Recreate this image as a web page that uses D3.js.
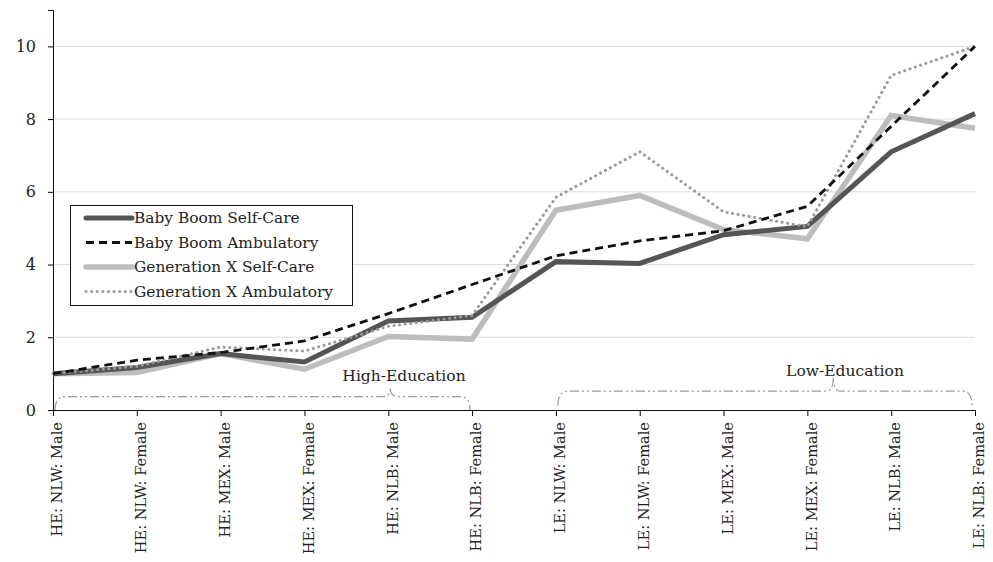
<!DOCTYPE html>
<html>
<head>
<meta charset="utf-8">
<script src="https://cdn.jsdelivr.net/npm/d3@7"></script>
<style>
  body { margin: 0; background: #fff; }
  svg text { font-family: "DejaVu Serif", "Liberation Serif", serif; fill: #222; }
</style>
</head>
<body>
<div id="chart"></div>
<script>
// categories along the x axis
var categories = [
    "HE: NLW: Male", "HE: NLW: Female", "HE: MEX: Male", "HE: MEX: Female",
    "HE: NLB: Male", "HE: NLB: Female", "LE: NLW: Male", "LE: NLW: Female",
    "LE: MEX: Male", "LE: MEX: Female", "LE: NLB: Male", "LE: NLB: Female"
];

// series values
var boomSelfCare   = [1.0, 1.17, 1.55, 1.32, 2.45, 2.55, 4.08, 4.03, 4.82, 5.05, 7.1, 8.15];
var boomAmbulatory = [1.0, 1.37, 1.58, 1.9, 2.65, 3.45, 4.24, 4.65, 4.93, 5.6, 7.8, 10.0];
var genXSelfCare   = [1.0, 1.03, 1.55, 1.12, 2.02, 1.95, 5.49, 5.9, 4.96, 4.71, 8.1, 7.75];
var genXAmbulatory = [1.0, 1.2, 1.73, 1.62, 2.3, 2.6, 5.85, 7.1, 5.45, 5.04, 9.2, 10.0];

var yTicks = [0, 2, 4, 6, 8, 10];

var seriesNames = [
    "Baby Boom Self-Care", "Baby Boom Ambulatory",
    "Generation X Self-Care", "Generation X Ambulatory"
];

var width = 993, height = 562;
var margin = {top: 10, right: 18, bottom: 152, left: 53};

var svg = d3.select("#chart")
    .append("svg")
    .attr("width", width)
    .attr("height", height);

var x = d3.scalePoint()
    .domain(categories)
    .range([margin.left, width - margin.right]);

var y = d3.scaleLinear()
    .domain([0, 11])
    .range([height - margin.bottom, margin.top]);

// gridlines
svg.append("g")
    .selectAll("line")
    .data(yTicks.filter(function (d) { return d > 0; }))
    .enter().append("line")
    .attr("x1", margin.left)
    .attr("x2", width - margin.right)
    .attr("y1", function (d) { return y(d); })
    .attr("y2", function (d) { return y(d); })
    .attr("stroke", "#dcdcdc")
    .attr("stroke-width", 1);

// axes
var yAxis = svg.append("g")
    .attr("transform", "translate(" + margin.left + ",0)")
    .call(d3.axisLeft(y).tickValues(yTicks).tickSize(5).tickPadding(12));
yAxis.select(".domain").attr("stroke", "#111");
yAxis.selectAll("text").style("font-size", "16px");

var xAxis = svg.append("g")
    .attr("transform", "translate(0," + y(0) + ")")
    .call(d3.axisBottom(x).tickSize(6).tickSizeOuter(0));
xAxis.select(".domain").attr("stroke", "#111");
xAxis.selectAll("text")
    .style("font-size", "14.6px")
    .attr("text-anchor", "end")
    .attr("transform", "rotate(-90)")
    .attr("x", -12)
    .attr("y", 0)
    .attr("dy", "0.6em");

// braces for education groups
var braceColor = "#9a9a9a";
function brace(x0, x1, xPeak, yBase, yLine, yTip) {
    var p = d3.path();
    p.moveTo(x0, yBase);
    p.quadraticCurveTo(x0, yLine, x0 + 10, yLine);
    p.lineTo(xPeak - 7, yLine);
    p.quadraticCurveTo(xPeak, yLine, xPeak, yTip);
    p.quadraticCurveTo(xPeak, yLine, xPeak + 7, yLine);
    p.lineTo(x1 - 10, yLine);
    p.quadraticCurveTo(x1, yLine, x1, yBase);
    return p.toString();
}

var braces = [
    {label: "High-Education", from: 0, to: 5, peak: 4, peakOff: 2, toOff: -2,
     base: 0, line: 0.37, tip: 0.62, textX: 404, textY: 0.8},
    {label: "Low-Education", from: 6, to: 11, peak: 9, peakOff: 26, toOff: -3,
     base: 0.12, line: 0.52, tip: 0.9, textX: 845, textY: 0.94}
];

braces.forEach(function (b) {
    svg.append("path")
        .attr("d", brace(x(categories[b.from]) + 2, x(categories[b.to]) + b.toOff,
            x(categories[b.peak]) + b.peakOff, y(b.base), y(b.line), y(b.tip)))
        .attr("fill", "none")
        .attr("stroke", braceColor)
        .attr("stroke-width", 1.2)
        .attr("stroke-dasharray", "9,3,2,3,2,3");
    svg.append("text")
        .attr("x", b.textX)
        .attr("y", y(b.textY))
        .attr("text-anchor", "middle")
        .style("font-size", "15.5px")
        .text(b.label);
});

// lines
var styles = [
    {values: boomSelfCare, color: "#555555", w: 5, dash: null, cap: "butt"},
    {values: boomAmbulatory, color: "#111111", w: 2.8, dash: "8,5", cap: "butt"},
    {values: genXSelfCare, color: "#bdbdbd", w: 5.5, dash: null, cap: "butt"},
    {values: genXAmbulatory, color: "#9a9a9a", w: 3, dash: "0.1,5.5", cap: "round"}
];

var line = d3.line()
    .x(function (d, i) { return x(categories[i]); })
    .y(function (d) { return y(d); });

// draw order: light lines beneath
[2, 0, 3, 1].forEach(function (k) {
    var s = styles[k];
    svg.append("path")
        .datum(s.values)
        .attr("d", line)
        .attr("fill", "none")
        .attr("stroke", s.color)
        .attr("stroke-width", s.w)
        .attr("stroke-linejoin", "miter")
        .attr("stroke-linecap", s.cap)
        .attr("stroke-dasharray", s.dash);
});

// legend
var legend = svg.append("g").attr("transform", "translate(70,205)");
legend.append("rect")
    .attr("x", 0.5).attr("y", 0.5)
    .attr("width", 282).attr("height", 100)
    .attr("fill", "#fff")
    .attr("stroke", "#111")
    .attr("stroke-width", 1);

var item = legend.selectAll("g.item")
    .data(seriesNames)
    .enter().append("g")
    .attr("class", "item")
    .attr("transform", function (d, i) { return "translate(0," + (13 + i * 24.5) + ")"; });

item.append("line")
    .attr("x1", 16).attr("x2", 62)
    .attr("y1", 0).attr("y2", 0)
    .attr("stroke", function (d, i) { return styles[i].color; })
    .attr("stroke-width", function (d, i) { return styles[i].w; })
    .attr("stroke-linecap", function (d, i) { return i === 1 ? "butt" : "round"; })
    .attr("stroke-dasharray", function (d, i) { return styles[i].dash; });

item.append("text")
    .attr("x", 64)
    .attr("y", 0)
    .attr("dy", "0.35em")
    .style("font-size", "15.4px")
    .text(function (d) { return d; });
</script>
</body>
</html>
